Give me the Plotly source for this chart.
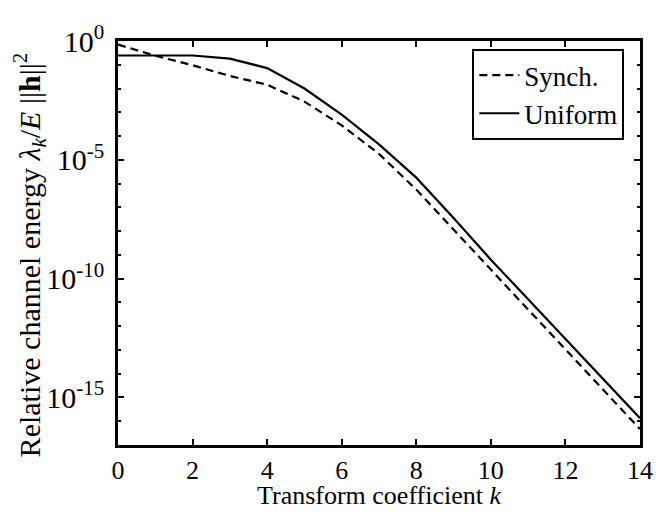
import plotly.graph_objects as go

k_values = list(range(15))
synch_log10 = [-0.15, -0.62, -1.02, -1.47, -1.84, -2.55, -3.55, -4.75, -6.25, -7.95, -9.62, -11.3, -12.97, -14.65, -16.33]
uniform_log10 = [-0.61, -0.61, -0.61, -0.74, -1.14, -2.0, -3.1, -4.35, -5.75, -7.45, -9.2, -10.87, -12.53, -14.2, -15.87]
synch = [10 ** v for v in synch_log10]
uniform = [10 ** v for v in uniform_log10]

y_tickvals = [1e0, 1e-5, 1e-10, 1e-15]
y_ticktext = ["10<sup>0</sup>", "10<sup>-5</sup>", "10<sup>-10</sup>", "10<sup>-15</sup>"]
y_minor = [10.0 ** (-e) for e in range(0, 18)]
x_tickvals = [0, 2, 4, 6, 8, 10, 12, 14]

x_title = "Transform coefficient <i>k</i>"
y_title = "Relative channel energy <i>λ<sub>k</sub></i>/<i>E</i> ||<b>h</b>||<sup>2</sup>"

FONT = "Liberation Serif"
FS = 26

fig = go.Figure()
fig.add_trace(go.Scatter(x=k_values, y=synch, mode="lines", name="Synch.",
                         line=dict(color="black", width=2.2, dash="8px,5px")))
fig.add_trace(go.Scatter(x=k_values, y=uniform, mode="lines", name="Uniform",
                         line=dict(color="black", width=2.2)))

axis_common = dict(showline=True, linecolor="black", linewidth=2.5, mirror="ticks",
                   ticks="inside", tickcolor="black", tickwidth=2, ticklen=6,
                   showgrid=False, zeroline=False)

fig.update_xaxes(range=[0, 14], tickvals=x_tickvals,
                 tickfont=dict(size=FS, family=FONT, color="black"), **axis_common)
fig.update_yaxes(type="log", range=[-17, 0], tickvals=y_tickvals, ticktext=y_ticktext,
                 minor=dict(tickvals=y_minor, ticks="inside", ticklen=3, tickcolor="black", tickwidth=1.5),
                 tickfont=dict(size=30, family=FONT, color="black"), ticklabelstandoff=5, **axis_common)

fig.add_annotation(text=x_title, xref="paper", yref="paper", x=0.5, y=-0.166,
                   xanchor="center", yanchor="bottom", showarrow=False,
                   font=dict(size=FS, family=FONT, color="black"))
fig.add_annotation(text=y_title, xref="paper", yref="paper", x=-0.17, y=0.47,
                   xanchor="center", yanchor="middle", textangle=-90, showarrow=False,
                   font=dict(size=30, family=FONT, color="black"))

fig.update_layout(
    width=666, height=512,
    margin=dict(l=110, r=34, t=23, b=75),
    paper_bgcolor="white", plot_bgcolor="white",
    font=dict(family=FONT, color="black"),
    legend=dict(x=0.97, y=0.98, xanchor="right", yanchor="top",
                bordercolor="black", borderwidth=2, bgcolor="white",
                font=dict(size=27, family=FONT, color="black"),
                tracegroupgap=0, itemwidth=40),
)

fig.write_html("out.html")
